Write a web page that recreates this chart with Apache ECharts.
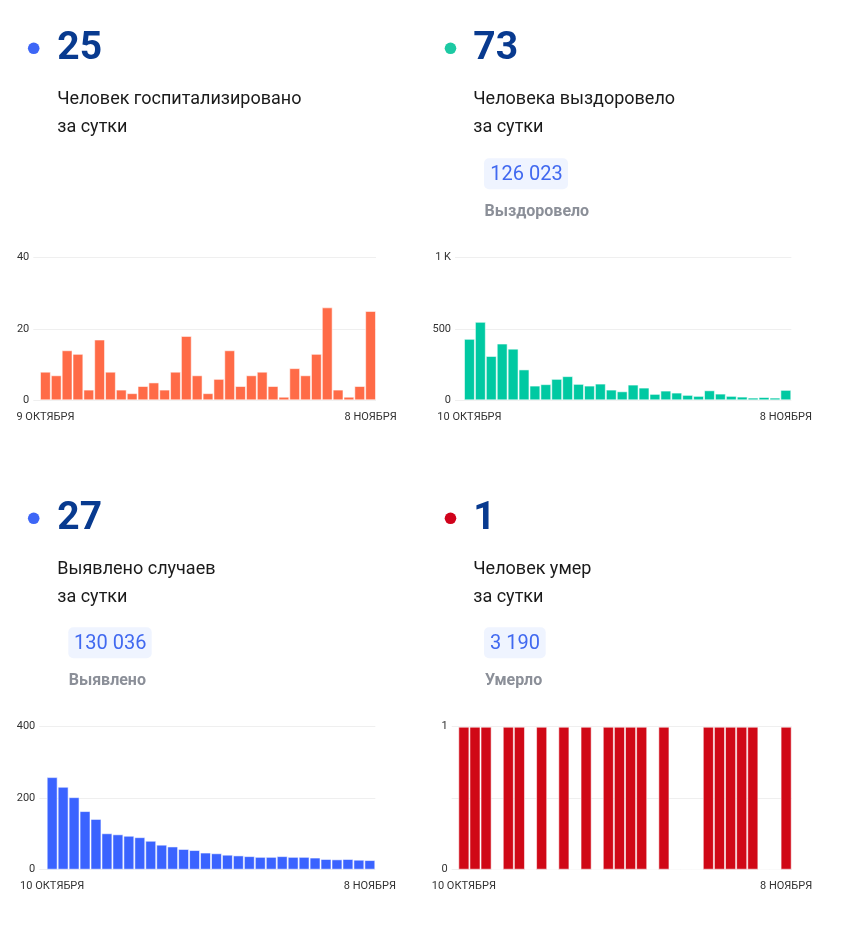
<!DOCTYPE html>
<html>
<head>
<meta charset="utf-8">
<script src="https://cdn.jsdelivr.net/npm/echarts@6/dist/echarts.min.js"></script>
<style>
html,body{margin:0;padding:0;background:#fff;}
#main{width:843px;height:925px;}
</style>
</head>
<body>
<div id="main"></div>
<script>
// ---- data ----
const datesOct9 = ['9 ОКТЯБРЯ','10 ОКТЯБРЯ','11 ОКТЯБРЯ','12 ОКТЯБРЯ','13 ОКТЯБРЯ','14 ОКТЯБРЯ','15 ОКТЯБРЯ','16 ОКТЯБРЯ','17 ОКТЯБРЯ','18 ОКТЯБРЯ','19 ОКТЯБРЯ','20 ОКТЯБРЯ','21 ОКТЯБРЯ','22 ОКТЯБРЯ','23 ОКТЯБРЯ','24 ОКТЯБРЯ','25 ОКТЯБРЯ','26 ОКТЯБРЯ','27 ОКТЯБРЯ','28 ОКТЯБРЯ','29 ОКТЯБРЯ','30 ОКТЯБРЯ','31 ОКТЯБРЯ','1 НОЯБРЯ','2 НОЯБРЯ','3 НОЯБРЯ','4 НОЯБРЯ','5 НОЯБРЯ','6 НОЯБРЯ','7 НОЯБРЯ','8 НОЯБРЯ'];
const datesOct10 = datesOct9.slice(1);

const hospitalized = [8,7,14,13,3,17,8,3,2,4,5,3,8,18,7,2,6,14,4,7,8,4,1,9,7,13,26,3,1,4,25];
const recovered = [430,549,310,397,361,216,103,113,150,169,115,103,117,75,63,110,89,45,68,54,38,31,70,47,31,26,19,23,19,73];
const cases = [259,232,203,164,142,102,99,95,91,81,70,65,58,55,48,46,42,40,38,36,36,38,36,36,34,30,29,30,28,27];
const deaths = [1,1,1,0,1,1,0,1,0,1,0,1,0,1,1,1,1,0,1,0,0,0,1,1,1,1,1,0,0,1];

const panels = [
  {num:'25', line1:'Человек госпитализировано', line2:'за сутки', total:null, totalLabel:null, dot:'#3d66f6'},
  {num:'73', line1:'Человека выздоровело', line2:'за сутки', total:'126 023', totalLabel:'Выздоровело', dot:'#1cc9a3'},
  {num:'27', line1:'Выявлено случаев', line2:'за сутки', total:'130 036', totalLabel:'Выявлено', dot:'#3d66f6'},
  {num:'1', line1:'Человек умер', line2:'за сутки', total:'3 190', totalLabel:'Умерло', dot:'#d0021b'}
];

// ---- layout (positions/styles) ----
const FONT = 'Roboto, "Noto Sans", sans-serif';
const layout = [
  {dotX:33.7, dotY:48.3, textX:57.3, numY:49.5, l1Y:99.8, l2Y:127.3, pill:null},
  {dotX:450.5, dotY:48.3, textX:473.3, numY:49.5, l1Y:99.8, l2Y:127.3, pill:{x:484, y:158.3, w:84, h:31, tx:490.3, ty:174.5, labX:484.5, labY:211.5}},
  {dotX:33.7, dotY:518.3, textX:57.3, numY:519.5, l1Y:569.8, l2Y:597, pill:{x:68.3, y:627.3, w:83.4, h:31, tx:74, ty:643.5, labX:68.7, labY:680.5}},
  {dotX:450.5, dotY:518.3, textX:473.3, numY:519.5, l1Y:569.8, l2Y:597, pill:{x:484, y:627.3, w:61.7, h:31, tx:490, ty:643.5, labX:485, labY:680.5}}
];

const charts = [
  {cats:datesOct9, data:hospitalized, color:'#ff6b47', max:40, interval:20, glLeft:33.3, barLeft:40, rightEdge:376, top:257.3, bottom:400.3},
  {cats:datesOct10, data:recovered, color:'#00c9a2', max:1000, interval:500, glLeft:455, barLeft:464, rightEdge:791.3, top:257.3, bottom:400.3},
  {cats:datesOct10, data:cases, color:'#3a63ff', max:400, interval:200, glLeft:39.3, barLeft:46.7, rightEdge:375.3, top:726.7, bottom:869.7},
  {cats:datesOct10, data:deaths, color:'#d00816', max:1, interval:0.5, glLeft:451.7, barLeft:458.3, rightEdge:791.7, top:726.7, bottom:869.7}
];

const grid = [], xAxis = [], yAxis = [], series = [], graphic = [];

charts.forEach((c, i) => {
  const h = c.bottom - c.top;
  // gridline grid
  grid.push({left:c.glLeft, top:c.top, width:c.rightEdge - c.glLeft, height:h, containLabel:false});
  const gi = grid.length - 1;
  xAxis.push({gridIndex:gi, type:'value', min:0, max:1, show:false});
  yAxis.push({
    gridIndex:gi, type:'value', min:0, max:c.max, interval:c.interval,
    axisLine:{show:false}, axisTick:{show:false},
    splitLine:{lineStyle:{color:'#efefef', width:1}},
    axisLabel:{
      margin:4, color:'#333', fontSize:11, fontFamily:FONT,
      formatter: v => {
        if (i === 3) return (v === 0 || v === 1) ? String(v) : '';
        if (v >= 1000) return (v/1000) + ' K';
        return String(v);
      }
    }
  });
  // bar grid
  grid.push({left:c.barLeft, top:c.top, width:c.rightEdge - c.barLeft, height:h, containLabel:false});
  const bi = grid.length - 1;
  const n = c.cats.length;
  xAxis.push({
    gridIndex:bi, type:'category', data:c.cats, boundaryGap:true,
    axisLine:{show:false}, axisTick:{show:false}, splitLine:{show:false},
    axisLabel:{
      margin:11, color:'#333', fontSize:11, fontFamily:FONT,
      interval:(idx) => idx === 0 || idx === n - 1,
      hideOverlap:false
    }
  });
  yAxis.push({gridIndex:bi, type:'value', min:0, max:c.max, show:false, splitLine:{show:false}});
  series.push({
    type:'bar', xAxisIndex:xAxis.length - 1, yAxisIndex:yAxis.length - 1,
    data:c.data, barCategoryGap:'0%', barGap:'0%',
    itemStyle:{color:c.color, borderColor:'rgba(255,255,255,0.55)', borderWidth:1},
    silent:true, animation:false
  });
});

panels.forEach((p, i) => {
  const L = layout[i];
  graphic.push({type:'circle', shape:{cx:L.dotX, cy:L.dotY, r:5.8}, style:{fill:p.dot}});
  graphic.push({type:'text', x:L.textX, y:L.numY, style:{text:p.num, fill:'#083a8f', font:'bold 39px ' + FONT, verticalAlign:'middle', align:'left'}});
  graphic.push({type:'text', x:L.textX, y:L.l1Y, style:{text:p.line1, fill:'#1a1a1a', font:'18px ' + FONT, verticalAlign:'middle', align:'left'}});
  graphic.push({type:'text', x:L.textX, y:L.l2Y, style:{text:p.line2, fill:'#1a1a1a', font:'18px ' + FONT, verticalAlign:'middle', align:'left'}});
  if (p.total && L.pill) {
    const P = L.pill;
    graphic.push({type:'rect', shape:{x:P.x, y:P.y, width:P.w, height:P.h, r:5}, style:{fill:'#eff4ff'}});
    graphic.push({type:'text', x:P.tx, y:P.ty, style:{text:p.total, fill:'#4169f0', font:'20px ' + FONT, verticalAlign:'middle', align:'left'}});
    graphic.push({type:'text', x:P.labX, y:P.labY, style:{text:p.totalLabel, fill:'#8b8f98', font:'bold 16px ' + FONT, verticalAlign:'middle', align:'left'}});
  }
});

const chart = echarts.init(document.getElementById('main'), null, {renderer:'canvas'});
chart.setOption({
  animation:false,
  backgroundColor:'#ffffff',
  grid, xAxis, yAxis, series, graphic
});
</script>
</body>
</html>
